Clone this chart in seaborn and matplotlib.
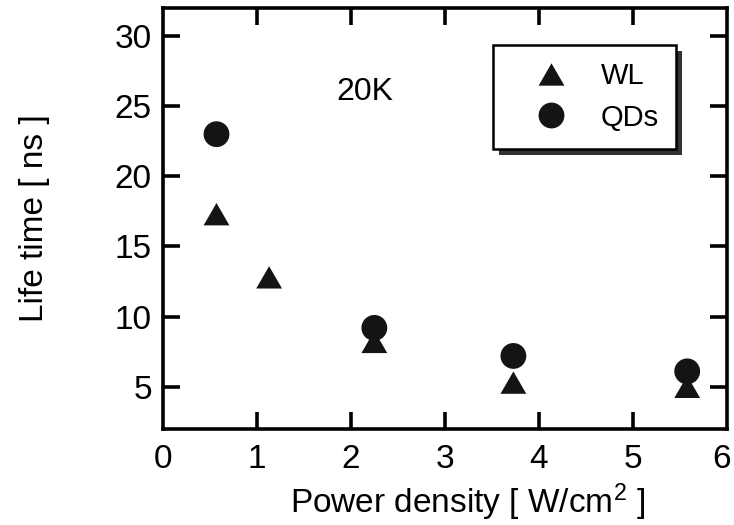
import matplotlib
matplotlib.use("Agg")
import matplotlib.pyplot as plt
import matplotlib.transforms as mtransforms
import seaborn as sns
import pandas as pd
from matplotlib.lines import Line2D
from matplotlib.markers import MarkerStyle
from matplotlib.patches import Rectangle

# ---- data ----
power_wl = [0.57, 1.13, 2.25, 3.73, 5.58]
lifetime_wl = [17.3, 12.8, 8.2, 5.3, 5.0]
power_qd = [0.57, 2.25, 3.73, 5.58]
lifetime_qd = [23.0, 9.2, 7.2, 6.1]
series_names = ["WL", "QDs"]
x_ticks = [0, 1, 2, 3, 4, 5, 6]
y_ticks = [5, 10, 15, 20, 25, 30]
annotation = "20K"

sns.set_style("white")
plt.rcParams["font.family"] = ["Liberation Sans", "DejaVu Sans"]
plt.rcParams["mathtext.fontset"] = "custom"
plt.rcParams["mathtext.rm"] = "Liberation Sans"
plt.rcParams["mathtext.it"] = "Liberation Sans:italic"
plt.rcParams["mathtext.bf"] = "Liberation Sans:bold"
plt.rcParams["text.color"] = "black"
plt.rcParams["axes.labelcolor"] = "black"
plt.rcParams["xtick.color"] = "black"
plt.rcParams["ytick.color"] = "black"

df = pd.concat([
    pd.DataFrame({"power": power_wl, "life": lifetime_wl, "series": series_names[0]}),
    pd.DataFrame({"power": power_qd, "life": lifetime_qd, "series": series_names[1]}),
], ignore_index=True)

ink = "#141414"
tri = [(-1, -0.866), (1, -0.866), (0, 0.866)]
marker_map = {"WL": tri, "QDs": "o"}
msize = 18.6

fig = plt.figure(figsize=(7.34, 5.25), dpi=100)
ax = fig.add_axes([0.222, 0.183, 0.768, 0.802])

sns.scatterplot(data=df, x="power", y="life", hue="series", style="series",
                markers=marker_map, palette={"WL": ink, "QDs": ink},
                s=msize ** 2, linewidth=0, legend=False, ax=ax, zorder=3)

ax.set_xlim(0, 6)
ax.set_ylim(2, 32)
ax.set_xticks(x_ticks)
ax.set_yticks(y_ticks)

for sp in ax.spines.values():
    sp.set_linewidth(2.6)
    sp.set_color("black")
    sp.set_visible(True)

ax.tick_params(axis="both", which="major", direction="in", length=12, width=2.6,
               color="black", labelcolor="black", labelsize=24, top=True,
               right=True, bottom=True, left=True)
ax.tick_params(axis="x", pad=11)
ax.tick_params(axis="y", pad=8)
for t in ax.xaxis.get_major_ticks():
    if t.get_loc() in (0, 6):
        t.tick1line.set_visible(False)
        t.tick2line.set_visible(False)

# keep the last x tick label ("6") inside the image
last_lbl = ax.get_xticklabels()[-1]
last_lbl.set_transform(last_lbl.get_transform() +
                       mtransforms.ScaledTranslation(-5 / 100, 0, fig.dpi_scale_trans))

ax.set_xlabel("Power density [ W/cm$^2$ ]", fontsize=24, color="black")
ax.set_ylabel("Life time [ ns ]", fontsize=24, color="black")
ax.xaxis.set_label_coords(0.54, -0.125)
ax.yaxis.set_label_coords(-0.2, 0.5)

ax.text(2.15, 26.0, annotation, fontsize=23, ha="center", va="center",
        color="black")

handles = [
    Line2D([], [], ls="", marker=MarkerStyle(marker_map[n]), ms=msize,
           mfc=ink, mec=ink, mew=0)
    for n in series_names
]
leg = ax.legend(handles, series_names, loc="upper left",
                bbox_to_anchor=(0.585, 0.912), fontsize=21, frameon=True,
                fancybox=False, edgecolor="black", facecolor="white",
                framealpha=1, borderpad=0.6, handlelength=2.8,
                handletextpad=0.3, labelspacing=0.45, borderaxespad=0,
                numpoints=1)
leg.get_frame().set_linewidth(1.8)
for txt in leg.get_texts():
    txt.set_color("black")
leg.set_zorder(6)

fig.canvas.draw()
bb = leg.get_window_extent()
inv = ax.transAxes.inverted()
(x0, y0), (x1, y1) = inv.transform([[bb.x0 + 6, bb.y0 - 6], [bb.x1 + 6, bb.y1 - 6]])
shadow = Rectangle((x0, y0), x1 - x0, y1 - y0, transform=ax.transAxes,
                   facecolor="#333333", edgecolor="none", zorder=5.5, clip_on=False)
ax.add_patch(shadow)

fig.savefig("out.png", dpi=100, facecolor="white")
